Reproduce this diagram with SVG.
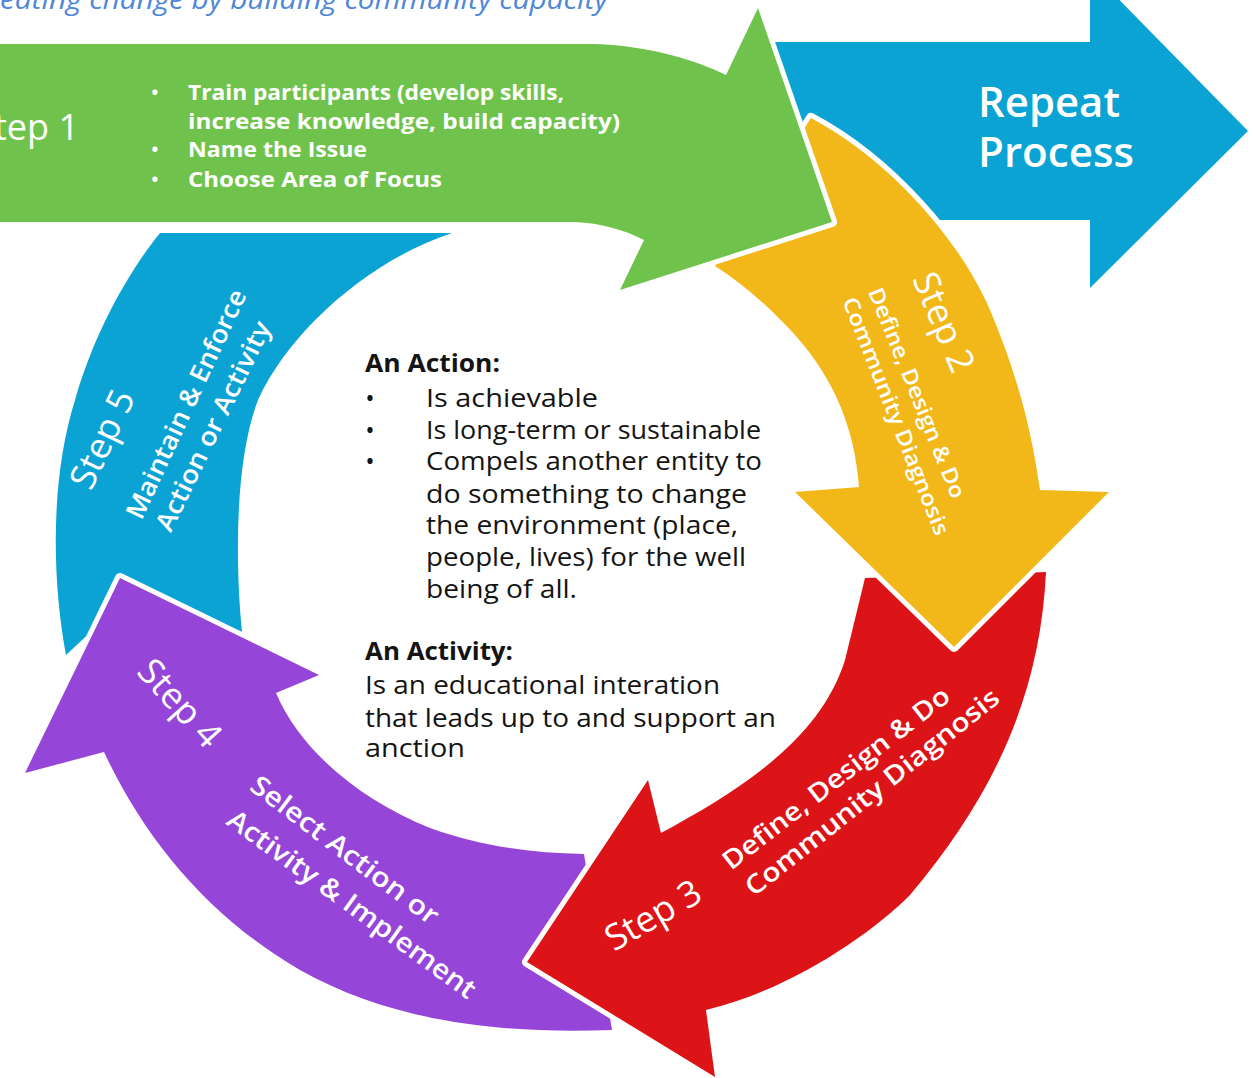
<svg xmlns="http://www.w3.org/2000/svg" width="1253" height="1078" viewBox="0 0 1253 1078">
  <style>
    .arrow { stroke: #ffffff; stroke-width: 10; stroke-linejoin: round; paint-order: stroke; }
    .lbl { fill: #ffffff; font-family: "Open Sans", "Liberation Sans", sans-serif; }
    .step { font-size: 36px; font-weight: 400; }
    .desc { font-weight: 600; }
    .body { fill: #141414; font-family: "Open Sans", "Liberation Sans", sans-serif; font-size: 25px; }
    .head { font-weight: 700; font-size: 25px; }
  </style>
  <rect width="1253" height="1078" fill="#ffffff"/>

  <!-- header line, cut by the top edge -->
  <text x="0" y="9" font-family="Open Sans, Liberation Sans, sans-serif" font-style="italic" font-size="27" fill="#4f87d8" textLength="608" lengthAdjust="spacingAndGlyphs">eating change by building community capacity</text>

  <g id="connectors">
    <!-- Repeat Process arrow -->
    <g id="repeat">
      <path class="arrow" fill="#0aa3d3" d="M 765,42 L 1090,42 L 1090,-30 L 1248,131 L 1090,288 L 1090,220 L 765,220 Z"/>
      <text class="lbl" font-size="42" font-weight="600" x="978" y="117" textLength="142" lengthAdjust="spacingAndGlyphs">Repeat</text>
      <text class="lbl" font-size="42" font-weight="600" x="978" y="167" textLength="156" lengthAdjust="spacingAndGlyphs">Process</text>
    </g>
  </g>

  <!-- Step 5 -->
  <g id="step5">
    <path class="arrow" fill="#0aa3d3" d="M 160,233 L 452,233 C 370,260 290,330 258,400 C 235,460 235,560 242,632 L 125,600 L 66,655 C 52,580 50,480 75,400 C 95,330 130,270 160,233 Z"/>
    <text class="lbl step" transform="translate(102 439) rotate(-64.6)" text-anchor="middle" dy="0.35em">Step 5</text>
    <text class="lbl desc" font-size="26" transform="translate(186 404) rotate(-65)" text-anchor="middle" dy="0.35em" textLength="250" lengthAdjust="spacingAndGlyphs">Maintain &amp; Enforce</text>
    <text class="lbl desc" font-size="26" transform="translate(213 426) rotate(-64)" text-anchor="middle" dy="0.35em" textLength="230" lengthAdjust="spacingAndGlyphs">Action or Activity</text>
  </g>

  <!-- Step 4 -->
  <g id="step4">
    <path class="arrow" fill="#9546d8" d="M 120,578 L 319,675 L 276,693 C 300,750 360,800 430,828 C 480,846 530,853 584,854 L 612,1030 C 480,1035 380,1015 300,970 C 210,918 145,840 104,752 L 25,773 Z"/>
    <text class="lbl step" transform="translate(180 703) rotate(48)" text-anchor="middle" dy="0.35em">Step 4</text>
    <text class="lbl desc" font-size="27" transform="translate(345 850) rotate(37)" text-anchor="middle" dy="0.35em" textLength="228" lengthAdjust="spacingAndGlyphs">Select Action or</text>
    <text class="lbl desc" font-size="27" transform="translate(352 904) rotate(36)" text-anchor="middle" dy="0.35em" textLength="300" lengthAdjust="spacingAndGlyphs">Activity &amp; Implement</text>
  </g>

  <!-- Step 3 -->
  <g id="step3">
    <path class="arrow" fill="#dc1418" d="M 865,578 L 1046,572 C 1040,700 990,800 910,895 C 870,935 790,990 706,1010 L 715,1077 L 527,962 L 648,780 L 661,833 C 740,790 820,740 845,660 L 865,578 Z"/>
    <text class="lbl step" transform="translate(653 915) rotate(-30)" text-anchor="middle" dy="0.35em">Step 3</text>
    <text class="lbl desc" font-size="26" transform="translate(836 778) rotate(-37.8)" text-anchor="middle" dy="0.35em" textLength="280" lengthAdjust="spacingAndGlyphs">Define, Design &amp; Do</text>
    <text class="lbl desc" font-size="26" transform="translate(872 792) rotate(-38.4)" text-anchor="middle" dy="0.35em" textLength="316" lengthAdjust="spacingAndGlyphs">Community Diagnosis</text>
  </g>

  <!-- Step 2 -->
  <g id="step2">
    <path class="arrow" fill="#f2b81a" d="M 811,118 C 890,160 960,240 990,310 C 1015,370 1030,420 1040,490 L 1109,492 L 954,647 L 795,492 L 859,487 C 855,430 835,380 795,335 C 770,308 745,285 715,266 Z"/>
    <text class="lbl step" transform="translate(944 322) rotate(67)" text-anchor="middle" dy="0.35em">Step 2</text>
    <text class="lbl desc" font-size="21.5" transform="translate(917 393) rotate(68)" text-anchor="middle" dy="0.35em" textLength="225" lengthAdjust="spacingAndGlyphs">Define, Design &amp; Do</text>
    <text class="lbl desc" font-size="21.5" transform="translate(896 416) rotate(68.4)" text-anchor="middle" dy="0.35em" textLength="254" lengthAdjust="spacingAndGlyphs">Community Diagnosis</text>
  </g>

  <!-- Step 1 -->
  <g id="step1">
    <path class="arrow" fill="#6fc34c" d="M -10,44 L 591,44 C 650,45 700,62 726,75 L 758,8 L 832,222 L 620,290 L 644,240 C 625,230 600,223 575,222 L -10,222 Z"/>
    <text class="lbl step" font-size="38" x="79" y="140" text-anchor="end">tep 1</text>
    <g class="lbl" font-weight="700" font-size="22">
      <text x="155" y="99" text-anchor="middle" font-size="18">•</text>
      <text x="188" y="100" textLength="376" lengthAdjust="spacingAndGlyphs">Train participants (develop skills,</text>
      <text x="188" y="129" textLength="432" lengthAdjust="spacingAndGlyphs">increase knowledge, build capacity)</text>
      <text x="155" y="156" text-anchor="middle" font-size="18">•</text>
      <text x="188" y="157" textLength="179" lengthAdjust="spacingAndGlyphs">Name the Issue</text>
      <text x="155" y="186" text-anchor="middle" font-size="18">•</text>
      <text x="188" y="187" textLength="254" lengthAdjust="spacingAndGlyphs">Choose Area of Focus</text>
    </g>
  </g>

  <!-- centre notes -->
  <g id="notes" class="body">
    <text class="head" x="365" y="372" textLength="135" lengthAdjust="spacingAndGlyphs">An Action:</text>
    <text x="370" y="407" text-anchor="middle">•</text>
    <text x="426" y="407" textLength="172" lengthAdjust="spacingAndGlyphs">Is achievable</text>
    <text x="370" y="439" text-anchor="middle">•</text>
    <text x="426" y="439" textLength="335" lengthAdjust="spacingAndGlyphs">Is long-term or sustainable</text>
    <text x="370" y="470" text-anchor="middle">•</text>
    <text x="426" y="470" textLength="336" lengthAdjust="spacingAndGlyphs">Compels another entity to</text>
    <text x="426" y="503" textLength="321" lengthAdjust="spacingAndGlyphs">do something to change</text>
    <text x="426" y="534" textLength="312" lengthAdjust="spacingAndGlyphs">the environment (place,</text>
    <text x="426" y="566" textLength="320" lengthAdjust="spacingAndGlyphs">people, lives) for the well</text>
    <text x="426" y="598" textLength="151" lengthAdjust="spacingAndGlyphs">being of all.</text>
    <text class="head" x="365" y="660" textLength="148" lengthAdjust="spacingAndGlyphs">An Activity:</text>
    <text x="365" y="694" textLength="355" lengthAdjust="spacingAndGlyphs">Is an educational interation</text>
    <text x="365" y="727" textLength="411" lengthAdjust="spacingAndGlyphs">that leads up to and support an</text>
    <text x="365" y="757" textLength="100" lengthAdjust="spacingAndGlyphs">anction</text>
  </g>
</svg>
